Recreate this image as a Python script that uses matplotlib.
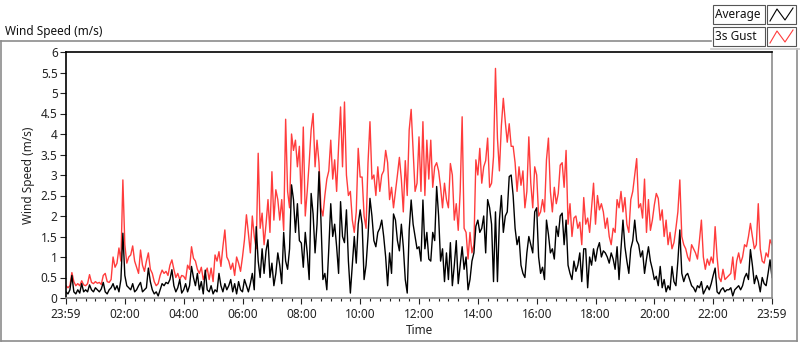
import numpy as np
import matplotlib.pyplot as plt
from matplotlib.patches import Rectangle
from matplotlib.lines import Line2D
from matplotlib.ticker import MultipleLocator

plt.rcParams['font.family'] = ['Noto Sans', 'DejaVu Sans']

# sample spacing in minutes (start 23:59 previous day -> 23:59)
STEP = 4

# 3s gust (m/s), 4-minute samples
gust = [
    0.3, 0.25, 0.3, 0.62, 0.4, 0.3, 0.35, 0.3, 0.42, 0.32,
    0.3, 0.35, 0.57, 0.38, 0.35, 0.4, 0.36, 0.38, 0.33, 0.55,
    0.6, 0.4, 0.38, 0.45, 1.0, 0.75, 0.85, 1.22, 0.9, 2.88,
    1.3, 0.85, 1.0, 1.05, 1.27, 0.9, 0.75, 0.6, 1.17, 0.8,
    0.65, 0.9, 1.1, 0.7, 0.6, 0.4, 0.3, 0.35, 0.55, 0.68,
    0.6, 0.65, 0.55, 0.8, 0.93, 0.7, 0.5, 0.6, 0.45, 0.55,
    # 04:00
    0.53, 0.45, 0.8, 0.7, 1.25, 0.97, 0.9, 0.7, 0.6, 0.75,
    0.45, 0.6, 0.73, 0.45, 0.73, 0.4, 1.05, 0.9, 1.13, 0.77,
    1.25, 1.66, 1.0, 0.9, 0.7, 0.85, 0.55, 1.0, 0.85, 0.65,
    1.0, 1.42, 2.03, 1.58, 1.1, 2.0, 1.5, 1.2, 3.53, 1.7,
    2.07, 1.3, 1.8, 2.4, 1.6, 3.08, 1.9, 2.64, 2.4, 1.9,
    2.4, 1.65, 4.36, 2.6, 2.2, 4.0, 3.6, 3.85, 3.2, 3.7,
    # 08:00
    2.3, 4.17, 2.0, 2.6, 3.3, 4.1, 4.5, 3.2, 3.85, 3.3,
    2.2, 2.0, 2.5, 2.9, 3.1, 3.85, 2.9, 3.37, 2.6, 3.7,
    4.66, 3.2, 4.78, 3.0, 2.5, 2.6, 1.9, 1.6, 2.1, 3.65,
    2.95, 2.95, 2.0, 1.7, 3.3, 4.3, 2.9, 3.0, 2.5, 3.2,
    2.6, 3.0, 3.1, 3.6, 3.3, 2.4, 2.7, 2.2, 2.6, 3.0,
    3.43, 2.9, 2.1, 3.35, 2.5, 4.1, 4.6, 3.6, 2.6, 2.8,
    # 12:00
    3.93, 2.6, 4.3, 2.5, 3.85, 2.9, 3.85, 2.7, 3.2, 3.3,
    3.1, 2.7, 2.2, 2.8, 2.4, 2.2, 3.28, 3.0, 1.9, 2.3,
    1.65, 2.6, 4.42, 1.7, 1.6, 0.95, 1.6, 1.1, 1.3, 3.37,
    3.0, 3.65, 2.8, 3.2, 3.35, 3.9, 2.7, 2.8, 3.45, 5.6,
    3.9, 3.1, 4.2, 4.87, 4.3, 3.8, 4.25, 3.7, 3.7, 3.3,
    2.6, 3.2, 2.75, 3.1, 2.2, 2.6, 3.93, 2.8, 2.2, 3.2,
    # 16:00
    3.0, 2.0, 2.1, 2.4, 2.1, 3.37, 3.9, 2.6, 2.1, 2.7,
    2.3, 2.55, 3.24, 3.3, 2.7, 3.6, 1.8, 2.3, 1.5, 1.95,
    2.0, 1.7, 1.85, 1.3, 2.45, 1.8, 1.95, 1.6, 2.2, 2.8,
    1.8, 2.5, 2.15, 2.3, 2.1, 1.7, 1.95, 1.5, 1.3, 1.7,
    1.6, 2.4, 2.2, 2.6, 2.1, 2.45, 1.8, 1.6, 2.4, 2.6,
    3.0, 3.4, 2.2, 2.3, 1.95, 2.9, 1.6, 2.4, 1.65, 1.9,
    # 20:00
    2.27, 2.55, 2.43, 1.9, 2.15, 1.5, 1.9, 1.3, 1.6, 1.2,
    1.35, 1.7, 2.1, 2.88, 1.5, 1.3, 1.2, 1.0, 0.9, 1.3,
    1.2, 1.1, 0.95, 1.4, 1.9, 1.0, 0.7, 0.95, 0.8, 1.0,
    0.85, 1.74, 1.0, 0.5, 0.4, 0.7, 0.45, 0.5, 0.55, 0.6,
    1.0, 0.45, 0.9, 1.1, 0.85, 1.0, 1.3, 1.25, 1.5, 1.82,
    1.5, 1.2, 1.3, 2.3, 1.2, 0.9, 0.85, 1.1, 1.0, 1.42,
    1.3,
]

# average wind speed (m/s)
average = [
    0.15, 0.1, 0.2, 0.55, 0.15, 0.1, 0.2, 0.12, 0.35, 0.15,
    0.2, 0.15, 0.32, 0.2, 0.15, 0.25, 0.2, 0.15, 0.22, 0.38,
    0.15, 0.1, 0.2, 0.25, 0.35, 0.2, 0.3, 0.15, 0.45, 1.58,
    0.55, 0.3, 0.25, 0.2, 0.35, 0.15, 0.2, 0.3, 0.38, 0.15,
    0.2, 0.25, 0.73, 0.4, 0.2, 0.1, 0.15, 0.05, 0.2, 0.35,
    0.3, 0.38, 0.35, 0.45, 0.69, 0.3, 0.15, 0.25, 0.45, 0.12,
    # 04:00
    0.2, 0.35, 0.15, 0.3, 0.77, 0.5, 0.3, 0.6, 0.2, 0.4,
    0.1, 0.68, 0.2, 0.15, 0.3, 0.1, 0.2, 0.15, 0.6, 0.3,
    0.15, 0.35, 0.2, 0.3, 0.45, 0.15, 0.35, 0.1, 0.4, 0.2,
    0.15, 0.45, 0.3, 0.15, 0.35, 0.6, 0.2, 1.74, 0.9, 0.5,
    1.2, 0.6, 1.15, 1.42, 0.5, 0.85, 0.3, 0.6, 1.1, 0.8,
    0.35, 1.6, 0.9, 0.7, 1.2, 2.76, 2.4, 1.6, 2.3, 1.4,
    # 08:00
    1.34, 0.75, 1.6, 1.1, 0.45, 2.55, 2.05, 1.1, 1.8, 3.08,
    1.9, 0.45, 0.6, 0.2, 1.2, 2.3, 1.5, 1.8, 1.25, 0.6,
    2.35, 1.5, 1.35, 2.15, 0.9, 0.12, 0.8, 1.5, 0.85, 1.8,
    2.15, 1.8, 0.45, 0.8, 1.5, 2.43, 2.0, 1.4, 1.25, 1.6,
    1.7, 1.9, 1.5, 1.0, 0.3, 1.1, 0.6, 2.05, 1.9, 1.4,
    1.15, 1.8, 1.25, 0.45, 0.12, 1.65, 2.39, 1.8, 1.5, 1.2,
    # 12:00
    1.25, 0.9, 2.39, 1.2, 1.6, 0.95, 0.9, 1.6, 1.4, 2.72,
    2.0, 0.9, 1.2, 0.4, 1.1, 0.45, 1.35, 0.3, 0.8, 1.4,
    0.35, 0.8, 1.25, 0.7, 1.0, 0.2, 0.45, 0.9, 1.1, 1.75,
    1.9, 1.6, 1.7, 2.0, 1.1, 2.4, 2.2, 1.8, 0.4, 2.1,
    0.4, 1.9, 2.5, 1.6, 2.0, 2.1, 2.96, 3.0, 2.5, 1.7,
    1.3, 1.5, 0.8, 0.6, 0.5, 1.1, 1.5, 1.3, 1.1, 2.1,
    # 16:00
    2.2, 1.0, 0.6, 0.75, 0.45, 1.9, 1.55, 1.1, 1.2, 0.95,
    1.75, 1.5, 2.0, 2.07, 1.3, 1.9, 0.8, 0.6, 0.45, 0.9,
    0.65, 0.8, 1.1, 0.4, 1.2, 1.2, 0.25, 1.0, 0.8, 1.2,
    0.9, 1.2, 1.35, 1.0, 1.15, 1.1, 1.0, 0.85, 1.1, 0.95,
    0.7, 1.25, 0.45, 1.2, 1.9, 1.25, 0.9, 0.6, 1.2, 1.4,
    1.9, 1.4, 1.3, 1.0, 1.15, 0.6, 0.95, 1.25, 0.9, 0.7,
    # 20:00
    0.45, 0.53, 0.3, 0.77, 0.25, 0.45, 0.15, 0.3, 0.2, 0.77,
    0.4, 0.3, 0.9, 1.66, 0.6, 0.4, 0.55, 0.6, 0.45, 0.3,
    0.25, 0.15, 0.3, 0.25, 0.4, 0.1, 0.2, 0.3, 0.2, 0.35,
    0.55, 0.73, 0.15, 0.1, 0.2, 0.25, 0.15, 0.2, 0.2, 0.25,
    0.05, 0.2, 0.25, 0.3, 0.2, 0.3, 0.5, 0.6, 0.45, 1.18,
    0.8, 0.35, 0.55, 0.4, 0.15, 0.5, 0.35, 0.3, 0.6, 0.93,
    0.5,
]

tick_labels = ['23:59', '02:00', '04:00', '06:00', '08:00', '10:00', '12:00',
               '14:00', '16:00', '18:00', '20:00', '22:00', '23:59']

minutes = np.arange(len(gust)) * STEP

W, H = 800, 342
fig = plt.figure(figsize=(W / 100, H / 100), dpi=100)


def fx(px):
    return px / W


def fy(py):
    # pixel rows are counted from the top
    return 1 - py / H


# plot area in pixels: x 66..772, y 52..298
ax = fig.add_axes([fx(66), fy(298), fx(772) - fx(66), fy(52) - fy(298)])

ax.plot(minutes, gust, color='#ff3c3c', lw=1.0)
ax.plot(minutes, average, color='black', lw=1.0)

ax.set_xlim(0, 1440)
ax.set_ylim(0, 6)
ax.set_xticks(np.arange(0, 1441, 120))
ax.set_xticklabels(tick_labels)
ax.xaxis.set_minor_locator(MultipleLocator(20))
ax.yaxis.set_major_locator(MultipleLocator(0.5))
ax.yaxis.set_major_formatter(plt.FuncFormatter(lambda v, p: f'{v:g}'))

ax.tick_params(axis='both', which='major', labelsize=8.5, colors='#222222',
               length=4, width=0.8, pad=2)
ax.tick_params(axis='x', which='minor', length=2, width=0.8, color='#222222')
ax.tick_params(axis='x', pad=3)

for side in ['top', 'left']:
    ax.spines[side].set_color('black')
    ax.spines[side].set_linewidth(1.2)
for side in ['bottom', 'right']:
    ax.spines[side].set_color('#8c8c8c')
    ax.spines[side].set_linewidth(1.2)

ax.set_xlabel('Time', fontsize=8.5, color='#222222', labelpad=2)
ax.set_ylabel('Wind Speed (m/s)', fontsize=8.5, color='#222222', labelpad=4)

# outer panel frame
fig.add_artist(Line2D([fx(1), fx(711)], [fy(41), fy(41)], color='#8c8c8c', lw=1.2))
fig.add_artist(Line2D([fx(1), fx(1)], [fy(41), fy(341)], color='#8c8c8c', lw=1.2))
fig.add_artist(Line2D([fx(1), fx(797)], [fy(341), fy(341)], color='#8c8c8c', lw=1.2))
fig.add_artist(Line2D([fx(797), fx(797)], [fy(49), fy(341)], color='#8c8c8c', lw=1.2))
fig.add_artist(Line2D([fx(711), fx(800)], [fy(49), fy(49)], color='#c8c8c8', lw=1.2))

fig.text(fx(5), fy(32), 'Wind Speed (m/s)', fontsize=8.5, color='#111111',
         ha='left', va='center')

# LabVIEW-style plot legend
legend_items = [('Average', 'black', 5), ('3s Gust', '#ff3c3c', 27)]
for name, col, top in legend_items:
    fig.add_artist(Rectangle((fx(713), fy(top + 19)), fx(52), 19 / H,
                             facecolor='white', edgecolor='#555555', lw=0.8))
    fig.add_artist(Rectangle((fx(767), fy(top + 19)), fx(29), 19 / H,
                             facecolor='white', edgecolor='#555555', lw=0.8))
    fig.text(fx(715), fy(top + 9.5), name, fontsize=8.5, color='#111111',
             ha='left', va='center')
    zx = [770, 777, 785, 793]
    zy = [top + 16, top + 4, top + 15, top + 3]
    fig.add_artist(Line2D([fx(v) for v in zx], [fy(v) for v in zy],
                          color=col, lw=0.8))

fig.savefig('out.png', dpi=100)
